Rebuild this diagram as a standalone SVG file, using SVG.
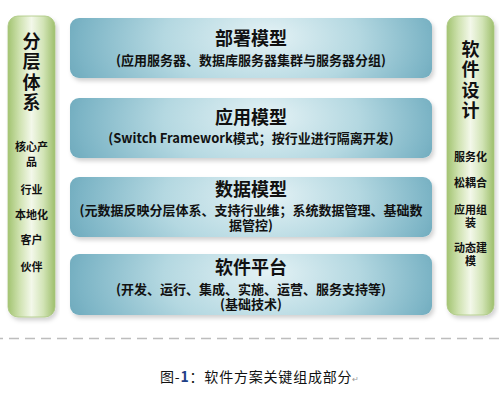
<svg xmlns="http://www.w3.org/2000/svg" width="500" height="400" viewBox="0 0 500 400">
<defs>
  <radialGradient id="gBox" cx="0.5" cy="0.45" r="0.6" fx="0.55" fy="0.4" gradientTransform="translate(0.5 0.45) scale(1 3.2) translate(-0.5 -0.45)">
    <stop offset="0" stop-color="#e4f2f5"/>
    <stop offset="0.45" stop-color="#b4d8e1"/>
    <stop offset="0.8" stop-color="#7db5c6"/>
    <stop offset="1" stop-color="#5d9db1"/>
  </radialGradient>
  <linearGradient id="gPillar" x1="0" y1="0" x2="1" y2="0">
    <stop offset="0" stop-color="#a3c472"/>
    <stop offset="0.25" stop-color="#cfe2b0"/>
    <stop offset="0.5" stop-color="#f3f8ea"/>
    <stop offset="0.75" stop-color="#d2e4b6"/>
    <stop offset="1" stop-color="#9ebf6c"/>
  </linearGradient>
  <filter id="shadow" x="-5%" y="-10%" width="115%" height="135%">
    <feDropShadow dx="2" dy="3" stdDeviation="2" flood-color="#000" flood-opacity="0.18"/>
  </filter>
</defs>
<style>
  .box { fill: url(#gBox); filter: url(#shadow); }
  .pillar { fill: url(#gPillar); stroke: #a9c77f; stroke-width: 0.8; filter: url(#shadow); }
  text { font-family: "Noto Sans CJK SC", "Noto Sans", sans-serif; fill: #111; text-anchor: middle; }
  .title { font-size: 18px; font-weight: bold; }
  .sub { font-size: 13px; font-weight: bold; }
  .big { font-size: 18px; font-weight: bold; writing-mode: vertical-rl; text-anchor: start; letter-spacing: 2.5px; }
  .small { font-size: 11px; font-weight: bold; }
  .cap { font-size: 14px; text-anchor: start; letter-spacing: 0.8px; }
</style>
<rect width="500" height="400" fill="#ffffff"/>

<g id="pillar-left">
  <rect class="pillar" x="8" y="16" width="47" height="301" rx="10" ry="10"/>
  <text class="big" x="31.5" y="32">分层体系</text>
  <text class="small" x="31.5" y="151">核心产<tspan x="31.5" dy="15">品</tspan></text>
  <text class="small" x="31.5" y="194">行业</text>
  <text class="small" x="31.5" y="219">本地化</text>
  <text class="small" x="31.5" y="244">客户</text>
  <text class="small" x="31.5" y="271">伙伴</text>
</g>

<g id="pillar-right">
  <rect class="pillar" x="447" y="16" width="47" height="299" rx="10" ry="10"/>
  <text class="big" x="470.5" y="40">软件设计</text>
  <text class="small" x="470.5" y="161">服务化</text>
  <text class="small" x="470.5" y="187">松耦合</text>
  <text class="small" x="470.5" y="214">应用组<tspan x="470.5" dy="13">装</tspan></text>
  <text class="small" x="470.5" y="252">动态建<tspan x="470.5" dy="13">模</tspan></text>
</g>

<g id="box-deploy">
  <rect class="box" x="70" y="18" width="362" height="60" rx="9" ry="9"/>
  <text class="title" x="251" y="45">部署模型</text>
  <text class="sub" x="251" y="65">(应用服务器、数据库服务器集群与服务器分组)</text>
</g>

<g id="box-app">
  <rect class="box" x="70" y="98" width="362" height="60" rx="9" ry="9"/>
  <text class="title" x="251" y="124">应用模型</text>
  <text class="sub" x="251" y="143">(Switch Framework模式；按行业进行隔离开发)</text>
</g>

<g id="box-data">
  <rect class="box" x="70" y="177" width="362" height="60" rx="9" ry="9"/>
  <text class="title" x="251" y="196">数据模型</text>
  <text class="sub" x="251" y="215">(元数据反映分层体系、支持行业维；系统数据管理、基础数<tspan x="251" dy="15">据管控)</tspan></text>
</g>

<g id="box-platform">
  <rect class="box" x="70" y="254" width="362" height="61" rx="9" ry="9"/>
  <text class="title" x="251" y="274">软件平台</text>
  <text class="sub" x="251" y="294">(开发、运行、集成、实施、运营、服务支持等)<tspan x="251" dy="15">(基础技术)</tspan></text>
</g>

<g id="connectors">
  <line x1="0" y1="338.5" x2="500" y2="338.5" stroke="#bdbdbd" stroke-width="1.5" stroke-dasharray="10 6" stroke-dashoffset="7"/>
</g>

<g id="caption">
  <text class="cap" x="160" y="382">图-<tspan fill="#1f3f86" font-weight="bold">1</tspan>：软件方案关键组成部分<tspan font-size="8" fill="#999" letter-spacing="0">↵</tspan></text>
</g>
</svg>
